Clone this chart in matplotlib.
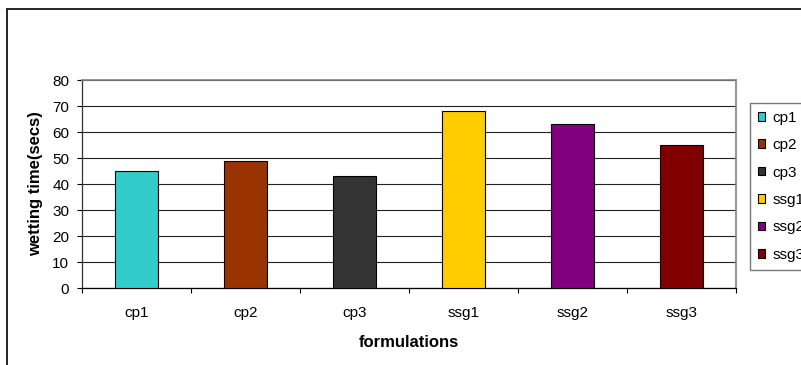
import matplotlib
matplotlib.use("Agg")
import matplotlib.pyplot as plt
from matplotlib.patches import Rectangle, Patch

plt.rcParams['font.family'] = ['Liberation Sans', 'DejaVu Sans']

formulations = ['cp1', 'cp2', 'cp3', 'ssg1', 'ssg2', 'ssg3']
wetting_time = [45, 49, 43, 68, 63, 55]
bar_colors = ['#33CCCC', '#993300', '#333333', '#FFCC00', '#800080', '#800000']
yticks = [0, 10, 20, 30, 40, 50, 60, 70, 80]

W, H = 801, 365
fig = plt.figure(figsize=(W / 100, H / 100), dpi=100)
fig.patch.set_facecolor('white')

# outer chart frame, runs off the right and bottom edges
fig.add_artist(Rectangle((7 / W, -0.1), 1.2, 1.1 - 9 / H, transform=fig.transFigure,
                         fill=False, edgecolor='black', linewidth=1.2))

ax = fig.add_axes([82 / W, 1 - 288 / H, (736 - 82) / W, (288 - 80) / H])
x = list(range(len(formulations)))
ax.bar(x, wetting_time, width=0.4, color=bar_colors, edgecolor='black',
       linewidth=0.8, zorder=3)

ax.set_xlim(-0.5, len(formulations) - 0.5)
ax.set_ylim(0, 80)
ax.set_yticks(yticks)
ax.yaxis.grid(True, color='#222222', linewidth=0.8, zorder=0)
ax.set_axisbelow(True)

ax.set_xticks(x)
ax.set_xticklabels(formulations, fontsize=11)
ax.set_xticks([i - 0.5 for i in range(len(formulations) + 1)], minor=True)
ax.tick_params(axis='x', which='major', length=0, pad=13)
ax.tick_params(axis='x', which='minor', length=3.6, width=0.8, color='black')
ax.tick_params(axis='y', length=3.6, width=0.8, labelsize=11, pad=5.5)

for side in ('top', 'right'):
    ax.spines[side].set_color('#808080')
    ax.spines[side].set_linewidth(1.2)
ax.spines['left'].set_color('#333333')
ax.spines['bottom'].set_color('black')
ax.spines['left'].set_linewidth(0.9)
ax.spines['bottom'].set_linewidth(0.9)

ax.set_ylabel('wetting time(secs)', fontsize=12, fontweight='bold', labelpad=7)
ax.set_xlabel('formulations', fontsize=12, fontweight='bold', labelpad=11)

# legend sits at the right edge of the canvas, partly running off it
handles = [Patch(facecolor=c, edgecolor='black', linewidth=0.8) for c in bar_colors]
leg = fig.legend(handles, formulations, loc='upper left',
                 bbox_to_anchor=(750 / W, 1 - 103 / H), fontsize=11,
                 frameon=True, fancybox=False, handlelength=0.5, handleheight=0.5,
                 handletextpad=0.45, labelspacing=0.88, borderpad=0.5,
                 borderaxespad=0)
leg.get_frame().set_edgecolor('#555555')
leg.get_frame().set_linewidth(1.0)

fig.savefig('out.png', dpi=100)
